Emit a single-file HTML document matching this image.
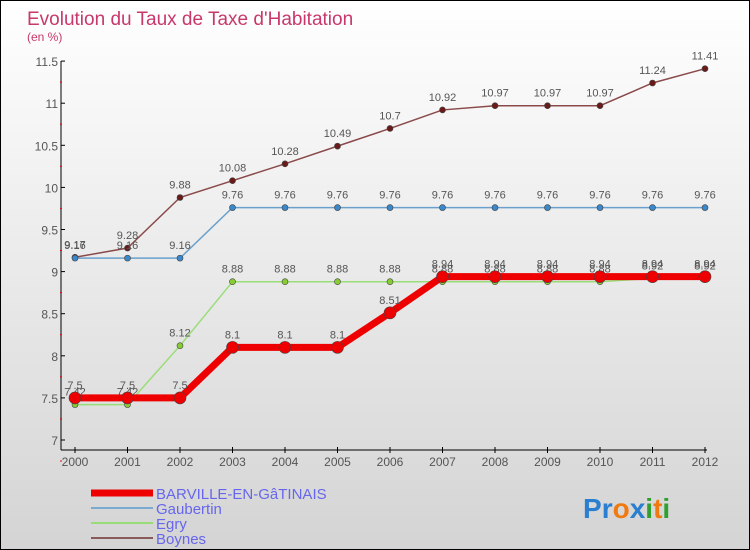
<!DOCTYPE html>
<html><head><meta charset="utf-8"><style>
body{margin:0}
#c{width:748px;height:548px;border:1px solid #000;background:linear-gradient(#fff,#d4d4d4);position:relative;overflow:hidden;font-family:"Liberation Sans",sans-serif}
</style></head><body>
<div id="c">
<svg id="s" width="748" height="548"></svg>
</div>
<script>
const years=["2000","2001","2002","2003","2004","2005","2006","2007","2008","2009","2010","2011","2012"];
const barville=[7.5,7.5,7.5,8.1,8.1,8.1,8.51,8.94,8.94,8.94,8.94,8.94,8.94];
const gaubertin=[9.16,9.16,9.16,9.76,9.76,9.76,9.76,9.76,9.76,9.76,9.76,9.76,9.76];
const egry=[7.42,7.42,8.12,8.88,8.88,8.88,8.88,8.88,8.88,8.88,8.88,8.92,8.92];
const boynes=[9.17,9.28,9.88,10.08,10.28,10.49,10.7,10.92,10.97,10.97,10.97,11.24,11.41];
const yTicks=["7","7.5","8","8.5","9","9.5","10","10.5","11","11.5"];
const NS="http://www.w3.org/2000/svg",s=document.getElementById('s');
function X(i){return 74+i*52.5}
function Y(v){return 439-(v-7)*84.2}
function el(t,a,txt){const e=document.createElementNS(NS,t);for(const k in a)e.setAttribute(k,a[k]);if(txt!==undefined)e.textContent=txt;s.appendChild(e);return e}
let e;
e=el('text',{x:26,y:24,'font-size':19,fill:'#c8386a'},"Evolution du Taux de Taxe d'Habitation");


e=el('text',{x:26,y:40,'font-size':12,fill:'#c8386a'},"(en %)");


e=el('line',{x1:60,y1:60,x2:60,y2:449,stroke:'#000'});


e=el('line',{x1:60,y1:449,x2:706,y2:449,stroke:'#000'});


yTicks.forEach(t=>{const y=Y(+t);
 el('line',{x1:60,y1:y,x2:64,y2:y,stroke:'#000'});
 el('line',{x1:59,y1:y+21,x2:61,y2:y+21,stroke:'#e00'});
 e=el('text',{x:57,y:y+5,'text-anchor':'end','font-size':12,fill:'#555'},t);
 
 
});
years.forEach((t,i)=>{el('line',{x1:X(i),y1:446,x2:X(i),y2:452,stroke:'#000'});
 e=el('text',{x:X(i),y:465,'text-anchor':'middle','font-size':12,fill:'#555'},t);
 
 
});
function series(d,col,w,r,mfill,name){
 e=el('polyline',{points:d.map((v,i)=>X(i)+','+Y(v)).join(' '),fill:'none',stroke:col,'stroke-width':w});
 
 
 d.forEach((v,i)=>{e=el('circle',{cx:X(i),cy:Y(v),r:r,fill:mfill,stroke:'#444','stroke-width':0.6});
  
  
  e=el('text',{x:X(i),y:Y(v)-9,'text-anchor':'middle','font-size':11,fill:'#555'},String(v));
  
  });
}
series(boynes,'#8a4a4a',1.5,3,'#6b1a1a','boynes');
series(gaubertin,'#6aa0cc',1.5,3,'#3a88cc','gaubertin');
series(egry,'#99dd77',1.5,3,'#88cc33','egry');
series(barville,'#ee0000',7,6,'#ee0000','barville');
const leg=[["BARVILLE-EN-GâTINAIS","#ee0000",7],["Gaubertin","#7aaad0",2],["Egry","#99dd77",2],["Boynes","#8a5a5a",2]];
leg.forEach((l,i)=>{const y=492+i*15;
 e=el('line',{x1:90,y1:y,x2:152,y2:y,stroke:l[1],'stroke-width':l[2]});
 
 
 e=el('text',{x:155,y:y+6,'font-size':15,fill:'#6666ee'},l[0]);
 
 
});
const logo=[["P","#2a7fd0"],["r","#2a7fd0"],["o","#f07a10"],["x","#2a7fd0"],["i","#30a030"],["t","#f07a10"],["i","#30a030"]];
const lg=el('text',{x:582,y:517,'font-size':28,'font-weight':'bold'});


logo.forEach(c=>{const t=document.createElementNS(NS,'tspan');t.setAttribute('fill',c[1]);t.textContent=c[0];lg.appendChild(t)});
</script>
</body></html>
